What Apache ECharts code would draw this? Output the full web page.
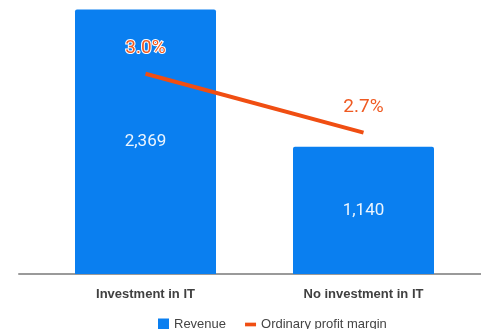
<!DOCTYPE html>
<html>
<head>
<meta charset="utf-8">
<script src="https://cdn.jsdelivr.net/npm/echarts@6/dist/echarts.min.js"></script>
<style>
  html, body { margin: 0; padding: 0; background: #ffffff; }
  #chart { width: 481px; height: 329px; }
</style>
</head>
<body>
<div id="chart"></div>
<script>
// Revenue (bars) and ordinary profit margin (line) by IT investment status
const categories = ['Investment in IT', 'No investment in IT'];
const revenue = [2369, 1140];
const profitMargin = [3.0, 2.7];
const seriesNames = ['Revenue', 'Ordinary profit margin'];

const BLUE = '#0a7ff0';
const ORANGE = '#f04e12';

const chart = echarts.init(document.getElementById('chart'), null, { renderer: 'canvas' });

chart.setOption({
  animation: false,
  backgroundColor: '#ffffff',
  grid: [
    { left: 36.5, right: 8.5, top: 6, bottom: 55 },
    // full-width baseline under the plot
    { left: 19, right: 0, top: 6, bottom: 55 }
  ],
  legend: {
    data: [
      { name: seriesNames[0], icon: 'rect' },
      { name: seriesNames[1], icon: 'path://M0,0 L12,0 L12,4 L0,4 Z' }
    ],
    left: 153,
    top: 313,
    itemWidth: 11,
    itemHeight: 12,
    itemGap: 19,
    textStyle: { color: '#444', fontSize: 13, fontFamily: 'Liberation Sans, Arial, sans-serif' }
  },
  xAxis: [
    {
      type: 'category',
      gridIndex: 0,
      data: categories,
      axisLine: { show: false },
      axisTick: { show: false },
      axisLabel: {
        margin: 14,
        color: '#404040',
        fontSize: 13,
        fontWeight: 'bold',
        fontFamily: 'Liberation Sans, Arial, sans-serif'
      }
    },
    {
      type: 'value',
      gridIndex: 1,
      min: 0,
      max: 1,
      axisLine: { show: true, onZero: false, lineStyle: { color: '#9a9a9a', width: 2 } },
      axisTick: { show: false },
      axisLabel: { show: false },
      splitLine: { show: false }
    }
  ],
  yAxis: [
    {
      type: 'value',
      gridIndex: 0,
      min: 0,
      max: 2400,
      show: false,
      splitLine: { show: false }
    },
    {
      type: 'value',
      gridIndex: 0,
      min: 1.98,
      max: 3.345,
      show: false,
      splitLine: { show: false }
    },
    {
      type: 'value',
      gridIndex: 1,
      show: false,
      splitLine: { show: false }
    }
  ],
  series: [
    {
      name: seriesNames[0],
      type: 'bar',
      xAxisIndex: 0,
      yAxisIndex: 0,
      data: revenue,
      barWidth: 141,
      itemStyle: { color: BLUE, borderRadius: [2, 2, 0, 0] },
      label: {
        show: true,
        position: 'inside',
        color: 'rgba(255,255,255,0.92)',
        fontSize: 17,
        fontFamily: 'Roboto, sans-serif',
        formatter: p => p.value.toLocaleString('en-US')
      },
      z: 2
    },
    {
      name: seriesNames[1],
      type: 'line',
      xAxisIndex: 0,
      yAxisIndex: 1,
      data: profitMargin,
      symbol: 'circle',
      symbolSize: 0,
      showSymbol: true,
      symbolKeepAspect: true,
      lineStyle: { color: ORANGE, width: 4 },
      itemStyle: { color: ORANGE },
      label: {
        show: true,
        position: 'top',
        distance: 16,
        color: '#ef5a22',
        fontSize: 19,
        fontFamily: 'Roboto, sans-serif',
        textBorderColor: '#ffffff',
        textBorderWidth: 2,
        formatter: p => p.value.toFixed(1) + '%'
      },
      z: 3
    }
  ]
});
</script>
</body>
</html>
